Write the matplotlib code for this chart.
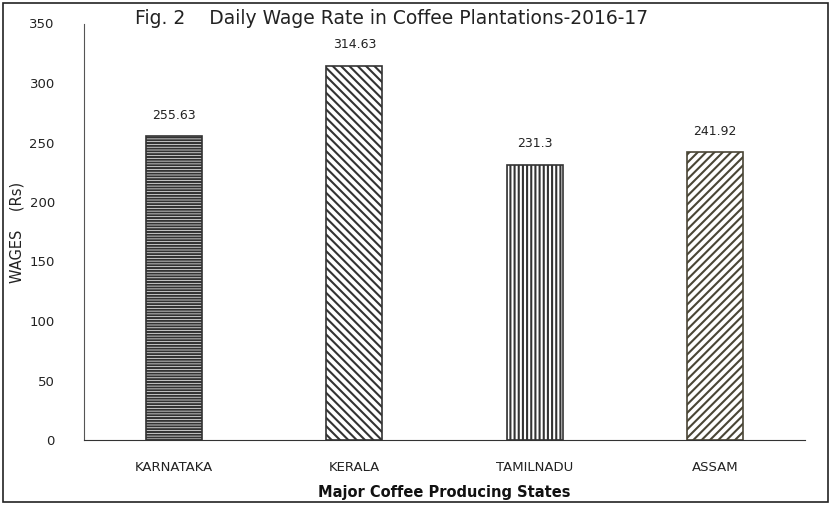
import matplotlib
matplotlib.use("Agg")
import matplotlib.pyplot as plt
from matplotlib.patches import Rectangle

states = ["KARNATAKA", "KERALA", "TAMILNADU", "ASSAM"]
wages = [255.63, 314.63, 231.3, 241.92]
value_labels = ["255.63", "314.63", "231.3", "241.92"]
yticks = [0, 50, 100, 150, 200, 250, 300, 350]
hatches = ["------", "\\\\\\\\", "||||", "////"]
edgecolors = ["#333333", "#333333", "#333333", "#4a4636"]

plt.rcParams['font.family'] = ['DejaVu Sans']
plt.rcParams['hatch.linewidth'] = 1.5

fig = plt.figure(figsize=(8.31, 5.05), dpi=100)
ax = fig.add_axes([84/831, 65/505, 721/831, 416.5/505])

x = range(len(states))
for i, (v, h, ec) in enumerate(zip(wages, hatches, edgecolors)):
    plt.rcParams['hatch.color'] = ec
    ax.bar(i, v, width=0.31, color="white", edgecolor=ec, hatch=h, linewidth=1.2, zorder=2)
    ax.text(i, v + 12, value_labels[i], ha="center", va="bottom", fontsize=9, color="#222222")

ax.set_xlim(-0.5, 3.5)
ax.set_ylim(0, 350)
ax.set_yticks(yticks)
ax.set_xticks(list(x))
ax.set_xticklabels(states, fontsize=9.5, color="#222222")
ax.tick_params(axis="both", length=0, colors="#222222")
ax.tick_params(axis="y", labelsize=9.5, pad=21)
ax.tick_params(axis="x", pad=15)
for s in ["top", "right"]:
    ax.spines[s].set_visible(False)
ax.spines["left"].set_color("#555555")
ax.spines["bottom"].set_color("#333333")

fig.text(84/831 + 0.5*721/831, 13/505, "Major Coffee Producing States", ha="center", va="center",
         fontsize=10.5, fontweight="bold", color="#111111")
fig.text(17/831, 1 - 232/505, "WAGES    (Rs)", rotation=90, ha="center", va="center",
         fontsize=10.5, color="#222222")
fig.text(135/831, 1 - 18/505, "Fig. 2    Daily Wage Rate in Coffee Plantations-2016-17", ha="left", va="center",
         fontsize=13.5, color="#222222")

fig.add_artist(Rectangle((3/831, 3/505), 825/831, 499/505, transform=fig.transFigure,
                         fill=False, edgecolor="#222222", linewidth=1.2))

fig.savefig("out.png", dpi=100)
